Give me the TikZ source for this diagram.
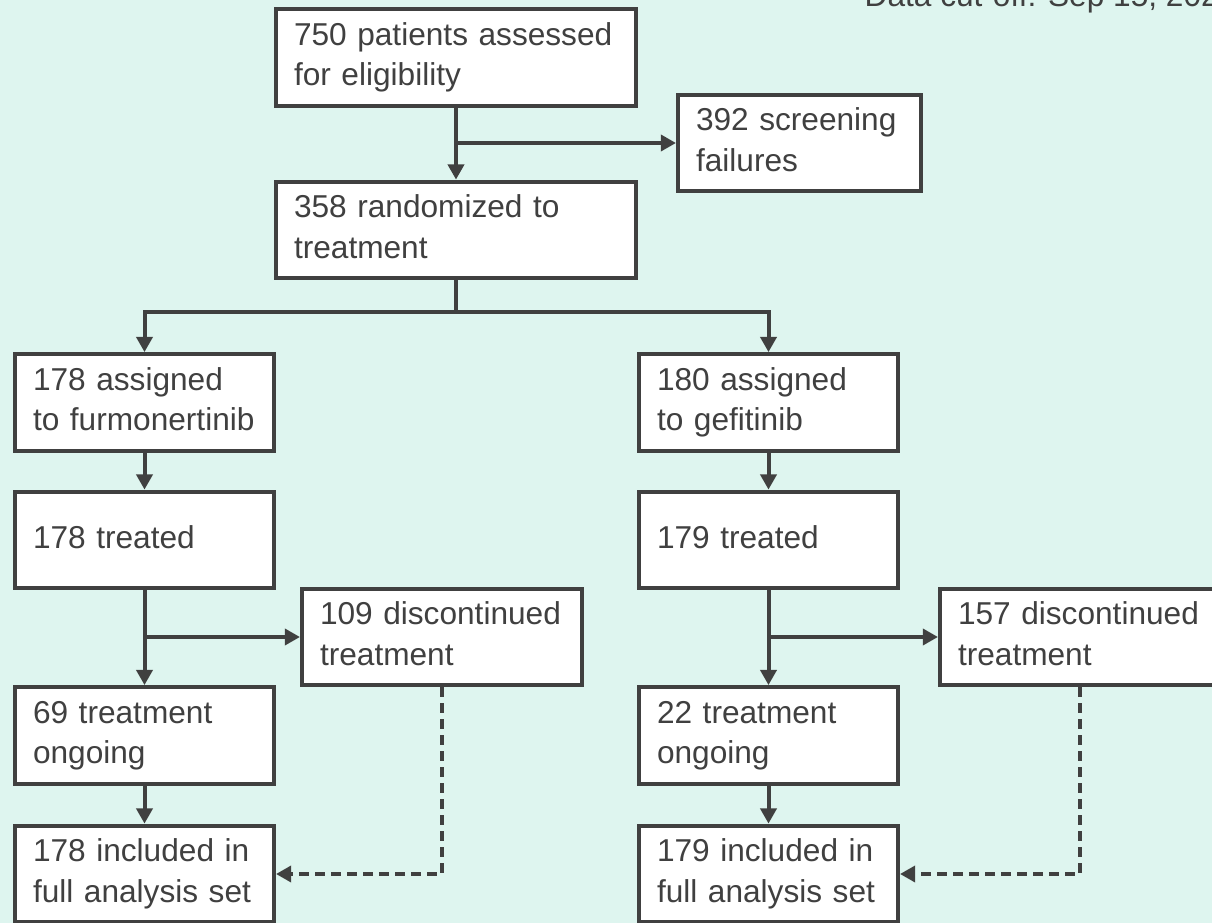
\documentclass[tikz,border=0pt]{standalone}
\usepackage{fontspec}
\setmainfont{Liberation Sans}
\usepackage{tikz}
\usetikzlibrary{arrows.meta}

\definecolor{mint}{HTML}{DEF5EF}
\definecolor{ink}{HTML}{404040}

\begin{document}
\begin{tikzpicture}[-{Triangle[length=0.38cm,width=0.4cm]},draw=ink,line width=0.1cm]
    \tikzstyle{stage}=[rectangle,-,draw=ink,fill=white,line width=0.1cm,align=left,inner xsep=0.45cm,minimum height=2.42cm,text=ink,font=\fontsize{22.5}{28.5}\selectfont,execute at begin node=\strut,execute at end node=\strut]
    \tikzstyle{main stage}=[stage, text width=8.1cm];
    \tikzstyle{arm stage}=[stage, text width=5.575cm];
    \tikzstyle{screen stage}=[stage, text width=5.175cm];
    \tikzstyle{exit stage}=[stage, text width=6.1cm];
    \tikzstyle{drop}=[dash pattern=on 0.25cm off 0.15cm]

    % Canvas
    \useasboundingbox (0,0) rectangle (30.3,-23.075);
    \clip (0,0) rectangle (30.3,-23.075);
    \fill[mint] (0,0) rectangle (30.3,-23.075);

    \node[anchor=base west,text=ink,font=\fontsize{22.5}{28.5}\selectfont] (cutoff) at (21.45,-0.175) {Data cut-off: Sep 15, 2022};

    % Enrolment
    \node[main stage] (elig) at (11.4,-1.4375) {750 patients assessed\\for eligibility};
    \node[screen stage] (screen) at (19.9875,-3.575) {392 screening\\failures};
    \node[main stage] (rand) at (11.4,-5.75) {358 randomized to\\treatment};
    \coordinate (split) at (11.4,-7.8);

    % Furmonertinib arm
    \node[arm stage] (assign-F) at (3.6125,-10.0625) {178 assigned\\to furmonertinib};
    \node[arm stage] (treat-F) at (3.6125,-13.5) {178 treated};
    \node[exit stage] (disc-F) at (11.05,-15.925) {109 discontinued\\treatment};
    \node[arm stage] (ongo-F) at (3.6125,-18.3875) {69 treatment\\ongoing};
    \node[arm stage] (incl-F) at (3.6125,-21.85) {178 included in\\full analysis set};

    % Gefitinib arm
    \node[arm stage] (assign-G) at (19.2125,-10.0625) {180 assigned\\to gefitinib};
    \node[arm stage] (treat-G) at (19.2125,-13.5) {179 treated};
    \node[exit stage] (disc-G) at (27.0,-15.925) {157 discontinued\\treatment};
    \node[arm stage] (ongo-G) at (19.2125,-18.3875) {22 treatment\\ongoing};
    \node[arm stage] (incl-G) at (19.2125,-21.85) {179 included in\\full analysis set};

    % Connect the stages
    \path (elig) edge (rand);
    \draw (elig.south |- screen.west) -- (screen.west);
    \draw[-] (rand.south) -- (split);
    \draw (split) -| (assign-F.north);
    \draw (split) -| (assign-G.north);
    \foreach \arm in {F,G}
    {
        \path (assign-\arm) edge (treat-\arm);
        \path (treat-\arm) edge (ongo-\arm);
        \draw (treat-\arm.south |- disc-\arm.west) -- (disc-\arm.west);
        \path (ongo-\arm) edge (incl-\arm);
        \draw[drop] (disc-\arm.south) |- (incl-\arm.east);
    }
\end{tikzpicture}
\end{document}
